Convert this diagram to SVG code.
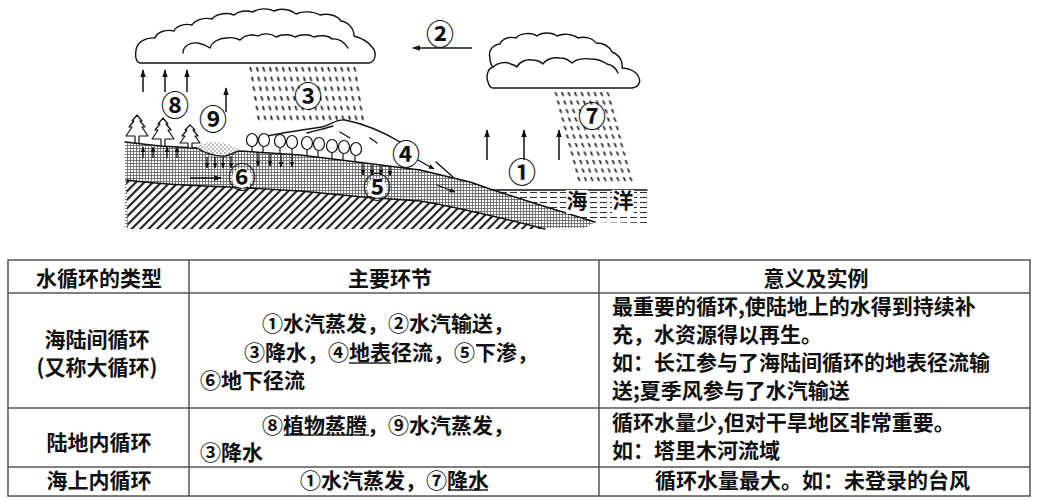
<svg xmlns="http://www.w3.org/2000/svg" width="1048" height="501" viewBox="0 0 1048 501">
<style>
.t{font-family:"Noto Sans CJK SC","Noto Sans",sans-serif;font-size:21px;fill:#111;font-weight:600}
.c{text-anchor:middle}
.n{font-family:"Noto Sans CJK SC","Noto Sans",sans-serif;font-size:28px;text-anchor:middle;fill:#111;font-weight:600}
.ln{fill:none;stroke:#111;stroke-width:1.4;stroke-linejoin:round;stroke-linecap:round}
.tree{fill:#fff;stroke:#111;stroke-width:1.2;stroke-linejoin:round}
.ar{stroke:#111;stroke-width:1.5;fill:none;marker-end:url(#ah)}
.as{stroke:#111;stroke-width:1.3;fill:none;marker-end:url(#ahs)}
.grid{stroke:#555;stroke-width:1.5;fill:none}
.ul{stroke:#222;stroke-width:1.3}
</style>
<defs>
<marker id="ah" viewBox="0 0 10 10" refX="9" refY="5" markerWidth="8" markerHeight="8" orient="auto" markerUnits="userSpaceOnUse"><path d="M0,1.5 L10,5 L0,8.5 Z" fill="#111"/></marker>
<marker id="ahs" viewBox="0 0 10 10" refX="9" refY="5" markerWidth="6" markerHeight="6" orient="auto" markerUnits="userSpaceOnUse"><path d="M0,1 L10,5 L0,9 Z" fill="#111"/></marker>
<pattern id="soil" width="3" height="3" patternUnits="userSpaceOnUse"><rect width="3" height="3" fill="#fff"/><path d="M0,1.5H3M1.5,0V3" stroke="#6a6a6a" stroke-width="0.9"/></pattern>
<pattern id="hatch" width="6" height="6" patternUnits="userSpaceOnUse" patternTransform="rotate(45)"><rect width="6" height="6" fill="#fff"/><line x1="3" y1="0" x2="3" y2="6" stroke="#222" stroke-width="2.2"/></pattern>
<pattern id="sea" width="10" height="5" patternUnits="userSpaceOnUse"><rect width="10" height="5" fill="#fff"/><line x1="0" y1="2.5" x2="7" y2="2.5" stroke="#333" stroke-width="1.1"/></pattern>
<pattern id="speck" width="4" height="4" patternUnits="userSpaceOnUse"><circle cx="1" cy="1" r="0.7" fill="#444"/><circle cx="3" cy="3" r="0.7" fill="#666"/></pattern>
<pattern id="rain3" width="6.5" height="9.7" patternUnits="userSpaceOnUse" patternTransform="translate(248,66) skewX(9)"><line x1="2" y1="1" x2="2.6" y2="5.5" stroke="#222" stroke-width="1.8"/></pattern>
<pattern id="rain7" width="6.5" height="8.5" patternUnits="userSpaceOnUse" patternTransform="translate(553,91) skewX(15)"><line x1="2" y1="1" x2="2.6" y2="5" stroke="#222" stroke-width="1.8"/></pattern>
</defs>
<rect width="1048" height="501" fill="#fff"/>

<g id="ground">
<path d="M125,142 L160,146 L197,148 C203,152 215,157 225,156 C232,155 235,151 240,151 L300,155 L357,162 L420,170 L470,182 L490,189 L540,205 L595,222 L585,228 L125,228 Z" fill="url(#soil)"/>
<path d="M126,180 C150,183 170,185 230,187 L300,191 L363,197 L420,201 C450,206 490,215 545,229 L128,229 Z" fill="url(#hatch)"/>
<path d="M126,180 C150,183 170,185 230,187 L300,191 L363,197 L420,201 C450,206 490,215 545,229" class="ln" stroke-width="1.2"/>
<path d="M492,190 L647,190 L647,223 L595,222 L540,205 Z" fill="url(#sea)"/>
<line x1="492" y1="190" x2="647" y2="190" class="ln" stroke-width="1.6"/>
<path d="M197,148 C200,141 228,139 240,151 C235,151 232,155 225,156 C215,157 203,152 197,148 Z" fill="url(#speck)"/>
<path d="M125,142 L160,146 L197,148 C203,152 215,157 225,156 C232,155 235,151 240,151 L300,155 L357,162 L420,170 L470,182 L490,189 L540,205 L595,222" class="ln" stroke-width="1.5"/>
<rect x="566" y="190" width="22" height="24" fill="#fff"/>
<rect x="612" y="190" width="22" height="24" fill="#fff"/>
<text x="577" y="208" class="t c" font-size="20" font-weight="400">海</text>
<text x="623" y="208" class="t c" font-size="20" font-weight="400">洋</text>
</g>

<g id="mountain">
<path d="M247,141 C265,135 295,131 322,127 C332,124 337,119 345,120 C360,123 380,130 400,142" class="ln" stroke-width="1.2"/>
<path d="M436,162 L453,177" class="ln" stroke-width="1.2"/>
<path d="M307,133 C318,130 327,128 333,126" class="ln" stroke-width="1"/>
<path d="M340,132 L350,138" class="ln" stroke-width="1"/>
<path d="M370,138 L377,143" class="ln" stroke-width="1"/>
</g>

<g id="conifers">
<path class="tree" d="M137,115 L132,121 L134,121 L129,127 L132,127 L126,136 L135,136 L135,143 L139,143 L139,136 L148,136 L142,127 L145,127 L140,121 L142,121 Z"/>
<path class="tree" d="M163,118 L158,124 L160,124 L155,130 L158,130 L152,139 L161,139 L161,146 L165,146 L165,139 L174,139 L168,130 L171,130 L166,124 L168,124 Z"/>
<path class="tree" d="M190,125 L185,130 L187,130 L182,136 L185,136 L180,143 L188,143 L188,148 L192,148 L192,143 L200,143 L195,136 L198,136 L193,130 L195,130 Z"/>
</g>

<g id="broadleaf" class="tree">
<path d="M252,147 V152"/><ellipse cx="252" cy="140" rx="5.5" ry="6.5"/>
<path d="M263,147 V153"/><ellipse cx="264" cy="140" rx="5.5" ry="6.5"/>
<path d="M280,148 V154"/><ellipse cx="280" cy="141" rx="5.5" ry="6.5"/>
<path d="M292,149 V155"/><ellipse cx="292" cy="142" rx="5.5" ry="6.5"/>
<path d="M307,150 V156"/><ellipse cx="307" cy="143" rx="5.5" ry="6.5"/>
<path d="M318,151 V157"/><ellipse cx="319" cy="144" rx="5.5" ry="6.5"/>
<path d="M332,153 V159"/><ellipse cx="332" cy="146" rx="5.5" ry="6.5"/>
<path d="M343,154 V160"/><ellipse cx="344" cy="147" rx="5.5" ry="6.5"/>
<path d="M355,156 V162"/><ellipse cx="356" cy="149" rx="5.5" ry="6.5"/>
</g>

<g id="cloud-land">
<path class="ln" fill="#fff" d="M140,63 L369,63 C376,62 377,52 372,47 C368,41 361,38 354,36 C354,28 348,22 341,21 C337,15 328,13 320,15 C313,11 302,11 296,14 C290,9 280,8 274,11 C268,8 258,8 253,12 C246,10 238,11 234,15 C226,12 216,14 212,19 C204,17 195,20 192,25 C185,23 176,26 174,31 C166,29 157,32 155,38 C146,37 137,42 136,50 C135,57 136,62 140,63 Z"/>
<path class="ln" d="M183,53 C183,46 190,42 198,43 C203,44 207,46 210,48 C212,42 219,38 226,38 C231,37 236,38 240,40 C244,35 252,34 258,36 C263,33 271,33 276,37 C282,34 290,34 295,37 C301,34 309,34 314,37 C320,35 328,35 332,39 C338,38 345,42 348,48"/>
</g>

<g id="cloud-sea">
<path class="ln" fill="#fff" d="M493,88 L631,88 C638,88 641,82 639,78 C637,72 630,68 622,68 C623,62 620,55 612,52 C609,46 603,43 596,43 C593,38 584,36 578,38 C573,34 563,33 557,36 C552,32 542,32 537,36 C532,32 520,33 516,38 C509,36 502,39 500,44 C492,45 488,51 490,58 C490,62 491,65 493,67 C487,69 486,77 488,82 C489,86 490,88 493,88 Z"/>
<path class="ln" d="M493,67 C497,63 505,61 511,64 C514,65 516,66 517,67 C519,62 526,59 532,60 C537,60 541,62 543,64 C546,59 553,57 560,58 C565,58 569,60 572,63 C576,59 584,58 590,59 C597,59 603,61 607,64 C612,65 616,68 618,73"/>
</g>

<g id="rain">
<polygon points="246,65 358,65 368,121 254,121" fill="url(#rain3)"/>
<polygon points="551,90 612,90 636,183 575,183" fill="url(#rain7)"/>
</g>

<g id="connectors">
<line x1="472" y1="48" x2="413" y2="48" class="ar"/>
<line x1="143" y1="92" x2="143" y2="70" class="ar"/>
<line x1="165" y1="92" x2="165" y2="70" class="ar"/>
<line x1="187" y1="92" x2="187" y2="70" class="ar"/>
<line x1="226" y1="112" x2="226" y2="88" class="ar"/>
<line x1="487" y1="160" x2="487" y2="130" class="ar"/>
<line x1="524" y1="160" x2="524" y2="130" class="ar"/>
<line x1="559" y1="160" x2="559" y2="130" class="ar"/>
<line x1="143" y1="158" x2="143" y2="147" class="as"/>
<line x1="153" y1="158" x2="153" y2="147" class="as"/>
<line x1="167" y1="158" x2="167" y2="147" class="as"/>
<line x1="177" y1="158" x2="177" y2="147" class="as"/>
<line x1="207" y1="157" x2="207" y2="168" class="as"/>
<line x1="215" y1="157" x2="215" y2="168" class="as"/>
<line x1="223" y1="157" x2="223" y2="168" class="as"/>
<line x1="231" y1="156" x2="231" y2="168" class="as"/>
<line x1="258" y1="153" x2="258" y2="166" class="as"/>
<line x1="270" y1="154" x2="270" y2="166" class="as"/>
<line x1="281" y1="154" x2="281" y2="167" class="as"/>
<line x1="292" y1="155" x2="292" y2="167" class="as"/>
<line x1="363" y1="164" x2="363" y2="175" class="as"/>
<line x1="372" y1="165" x2="372" y2="175" class="as"/>
<line x1="381" y1="166" x2="381" y2="175" class="as"/>
<line x1="390" y1="167" x2="390" y2="176" class="as"/>
<line x1="190" y1="178" x2="221" y2="178" class="ar"/>
<line x1="418" y1="160" x2="434" y2="169" class="as"/>
<line x1="437" y1="185" x2="455" y2="192" class="as"/>
</g>

<g id="labels">
<circle cx="308" cy="97" r="12" fill="#fff"/>
<circle cx="592" cy="117" r="12" fill="#fff"/>
<circle cx="377" cy="188" r="10" fill="#fff"/>
<circle cx="242" cy="178" r="10" fill="#fff"/>
<text x="522" y="183" class="n">①</text>
<text x="440" y="45" class="n">②</text>
<text x="308" y="107" class="n">③</text>
<text x="406" y="165" class="n">④</text>
<text x="377" y="198" class="n">⑤</text>
<text x="242" y="188" class="n">⑥</text>
<text x="592" y="127" class="n">⑦</text>
<text x="175" y="116" class="n">⑧</text>
<text x="213" y="130" class="n">⑨</text>
</g>

<g id="table">
<rect x="8" y="260" width="1022" height="236" class="grid"/>
<line x1="8" y1="293" x2="1030" y2="293" class="grid"/>
<line x1="8" y1="408" x2="1030" y2="408" class="grid"/>
<line x1="8" y1="467" x2="1030" y2="467" class="grid"/>
<line x1="189" y1="260" x2="189" y2="496" class="grid"/>
<line x1="599" y1="260" x2="599" y2="496" class="grid"/>
</g>

<g id="header">
<text x="99" y="286" class="t c">水循环的类型</text>
<text x="390" y="286" class="t c">主要环节</text>
<text x="816" y="286" class="t c">意义及实例</text>
</g>

<g id="row-sea-land">
<text class="t c"><tspan x="97" y="347">海陆间循环</tspan><tspan x="97" y="375">(又称大循环)</tspan></text>
<text class="t"><tspan x="262" y="331">①水汽蒸发，②水汽输送，</tspan><tspan x="244" y="360">③降水，④地表径流，⑤下渗，</tspan><tspan x="200" y="388">⑥地下径流</tspan></text>
<line x1="349" y1="363" x2="391" y2="363" class="ul"/>
<text class="t"><tspan x="612" y="314">最重要的循环,使陆地上的水得到持续补</tspan><tspan x="612" y="342">充，水资源得以再生。</tspan><tspan x="612" y="370">如：长江参与了海陆间循环的地表径流输</tspan><tspan x="612" y="398">送;夏季风参与了水汽输送</tspan></text>
</g>

<g id="row-land">
<text x="99" y="450" class="t c">陆地内循环</text>
<text class="t"><tspan x="262" y="433">⑧植物蒸腾，⑨水汽蒸发，</tspan><tspan x="200" y="460">③降水</tspan></text>
<line x1="284" y1="435" x2="369" y2="435" class="ul"/>
<text class="t"><tspan x="612" y="430">循环水量少,但对干旱地区非常重要。</tspan><tspan x="612" y="458">如：塔里木河流域</tspan></text>
</g>

<g id="row-sea">
<text x="99" y="488" class="t c">海上内循环</text>
<text x="300" y="488" class="t">①水汽蒸发，⑦降水</text>
<line x1="448" y1="490" x2="488" y2="490" class="ul"/>
<text x="655" y="488" class="t">循环水量最大。如：未登录的台风</text>
</g>
</svg>
